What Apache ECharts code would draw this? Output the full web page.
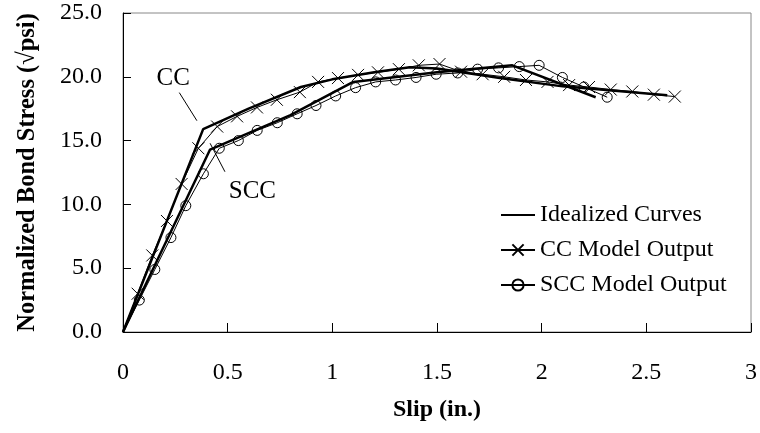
<!DOCTYPE html>
<html>
<head>
<meta charset="utf-8">
<script src="https://cdn.jsdelivr.net/npm/echarts@6/dist/echarts.min.js"></script>
<style>html,body{margin:0;padding:0;background:#fff}#c{width:760px;height:433px}</style>
</head>
<body>
<div id="c"></div>
<script>
// ---- data ----
const slipCCIdeal   = [0, 0.383, 0.6, 0.85, 1.0, 1.2, 1.37, 1.5, 1.8, 2.1, 2.6];
const stressCCIdeal = [0, 15.9, 17.5, 19.2, 19.8, 20.35, 20.75, 20.65, 19.9, 19.25, 18.55];

const slipSCCIdeal   = [0, 0.416, 0.8, 1.1, 1.5, 1.86, 2.258];
const stressSCCIdeal = [0, 14.3, 17.0, 19.6, 20.35, 20.9, 18.4];

const slipCCModel   = [0, 0.07, 0.14, 0.21, 0.28, 0.36, 0.45, 0.545, 0.64, 0.735, 0.845, 0.932, 1.027, 1.123, 1.218, 1.318, 1.413, 1.512, 1.615, 1.718, 1.821, 1.925, 2.028, 2.131, 2.226, 2.330, 2.433, 2.536, 2.636];
const stressCCModel = [0, 3.0, 6.0, 8.7, 11.6, 14.4, 16.1, 16.9, 17.6, 18.2, 18.8, 19.6, 19.9, 20.15, 20.35, 20.6, 20.9, 21.0, 20.4, 20.2, 20.0, 19.75, 19.6, 19.35, 19.2, 19.0, 18.85, 18.6, 18.45];

const slipSCCModel   = [0, 0.078, 0.152, 0.229, 0.300, 0.384, 0.460, 0.551, 0.641, 0.737, 0.832, 0.922, 1.016, 1.111, 1.207, 1.302, 1.400, 1.496, 1.599, 1.694, 1.794, 1.893, 1.988, 2.099, 2.202, 2.313];
const stressSCCModel = [0, 2.5, 4.9, 7.4, 9.9, 12.4, 14.4, 15.0, 15.8, 16.4, 17.1, 17.75, 18.5, 19.15, 19.6, 19.75, 19.95, 20.2, 20.3, 20.6, 20.7, 20.8, 20.9, 19.95, 19.2, 18.4];

const annoText = ['CC', 'SCC'];
const annoSlip = [0.24, 0.618];
const annoStress = [19.9, 11.0];
const leaderFrom = [[0.269, 18.76], [0.416, 14.79]];
const leaderTo   = [[0.353, 16.56], [0.487, 12.56]];

const legendNames = ['Idealized Curves', 'CC Model Output', 'SCC Model Output'];
const xTicks = {min: 0, max: 3, interval: 0.5};
const yTicks = {min: 0, max: 25, interval: 5};

// ---- build ----
const FONT = 'Liberation Serif';
function pts(xs, ys, hideFirst) {
  return xs.map((x, i) => (hideFirst && i === 0) ? {value: [x, ys[i]], symbol: 'none'} : [x, ys[i]]);
}
const X_PATH = 'path://M0,0L10,10M10,0L0,10';
const CLEAR = 'rgba(0,0,0,0)';

const chart = echarts.init(document.getElementById('c'), null, {renderer: 'canvas'});
chart.setOption({
  animation: false,
  backgroundColor: '#fff',
  grid: {left: 123, right: 8, top: 13, bottom: 101, show: true, borderColor: '#888', borderWidth: 1},
  legend: {
    data: legendNames,
    orient: 'vertical',
    left: 500, top: 203, padding: 0,
    itemWidth: 34, itemHeight: 14, itemGap: 11,
    textStyle: {fontFamily: FONT, fontSize: 24, color: '#000', lineHeight: 24},
    inactiveColor: '#000'
  },
  xAxis: {
    type: 'value', min: xTicks.min, max: xTicks.max, interval: xTicks.interval,
    name: 'Slip (in.)', nameLocation: 'middle', nameGap: 66,
    nameTextStyle: {fontFamily: FONT, fontSize: 24, fontWeight: 'bold', color: '#000'},
    axisLine: {show: true, onZero: false, lineStyle: {color: '#000', width: 1}},
    axisTick: {show: true, inside: true, length: 9, lineStyle: {color: '#000'}},
    axisLabel: {fontFamily: FONT, fontSize: 24, color: '#000', margin: 29, formatter: v => String(v)},
    splitLine: {show: false}
  },
  yAxis: {
    type: 'value', min: yTicks.min, max: yTicks.max, interval: yTicks.interval,
    name: 'Normalized Bond Stress (\u221Apsi)', nameLocation: 'middle', nameGap: 83, nameRotate: 90,
    nameTextStyle: {fontFamily: FONT, fontSize: 24.5, fontWeight: 'bold', color: '#000'},
    axisLine: {show: true, onZero: false, lineStyle: {color: '#000', width: 1}},
    axisTick: {show: true, inside: true, length: 8, lineStyle: {color: '#000'}},
    axisLabel: {fontFamily: FONT, fontSize: 24, color: '#000', margin: 21, formatter: v => v.toFixed(1)},
    splitLine: {show: false}
  },
  series: [
    {
      name: 'CC Model Output', type: 'line', data: pts(slipCCModel, stressCCModel, true),
      symbol: X_PATH, symbolSize: 12, showAllSymbol: true,
      lineStyle: {color: '#000', width: 1},
      itemStyle: {color: CLEAR, borderColor: '#000', borderWidth: 1},
      z: 3
    },
    {
      name: 'SCC Model Output', type: 'line', data: pts(slipSCCModel, stressSCCModel, true),
      symbol: 'circle', symbolSize: 10, showAllSymbol: true,
      lineStyle: {color: '#000', width: 1},
      itemStyle: {color: CLEAR, borderColor: '#000', borderWidth: 1},
      z: 3
    },
    {
      name: 'Idealized Curves', type: 'line', data: pts(slipCCIdeal, stressCCIdeal, false),
      symbol: 'circle', showSymbol: false, lineStyle: {color: '#000', width: 2.5},
      itemStyle: {color: CLEAR, borderColor: CLEAR, borderWidth: 0}, z: 4
    },
    {
      name: 'Idealized Curves', type: 'line', data: pts(slipSCCIdeal, stressSCCIdeal, false),
      symbol: 'circle', showSymbol: false, lineStyle: {color: '#000', width: 2.5},
      itemStyle: {color: CLEAR, borderColor: CLEAR, borderWidth: 0}, z: 4
    },
    {
      name: 'annotationText', type: 'scatter', symbolSize: 0, silent: true,
      itemStyle: {opacity: 1},
      data: annoText.map((t, i) => [annoSlip[i], annoStress[i], t]),
      label: {show: true, position: 'inside', formatter: p => p.data[2],
              fontFamily: FONT, fontSize: 25, color: '#000', opacity: 1}
    },
    {
      name: 'annotationLines', type: 'lines', coordinateSystem: 'cartesian2d', silent: true,
      data: leaderFrom.map((f, i) => ({coords: [f, leaderTo[i]]})),
      lineStyle: {color: '#000', width: 1, opacity: 1}
    }
  ]
});
</script>
</body>
</html>
